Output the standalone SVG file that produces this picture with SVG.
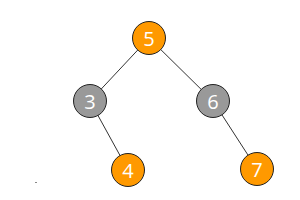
<svg xmlns="http://www.w3.org/2000/svg" width="300" height="200" viewBox="0 0 300 200">
<style>
.n{stroke:#222;stroke-width:1}
.o{fill:#ff9900}
.g{fill:#999999}
.t{fill:#fff;font-family:"Open Sans","DejaVu Sans",sans-serif;font-size:20px;text-anchor:middle;dominant-baseline:central}
.e{stroke:#333;stroke-width:1;fill:none}
</style>
<rect width="300" height="200" fill="#fff"/>
<g id="edges">
<line class="e" x1="149" y1="38" x2="90" y2="101"/>
<line class="e" x1="149" y1="38" x2="213" y2="101"/>
<line class="e" x1="90" y1="101" x2="128" y2="170"/>
<line class="e" x1="213" y1="101" x2="257" y2="169"/>
</g>
<g id="n5"><circle class="n o" cx="149" cy="38" r="16.5"/><text class="t" x="149" y="38">5</text></g>
<g id="n3"><circle class="n g" cx="90" cy="101" r="16.5"/><text class="t" x="90" y="101">3</text></g>
<g id="n6"><circle class="n g" cx="213" cy="101" r="16.5"/><text class="t" x="213" y="101">6</text></g>
<g id="n4"><circle class="n o" cx="128" cy="170" r="16.5"/><text class="t" x="128" y="170">4</text></g>
<g id="n7"><circle class="n o" cx="257" cy="169" r="16.5"/><text class="t" x="257" y="169">7</text></g>
<rect x="35" y="182" width="2" height="1" fill="#888"/>
</svg>
